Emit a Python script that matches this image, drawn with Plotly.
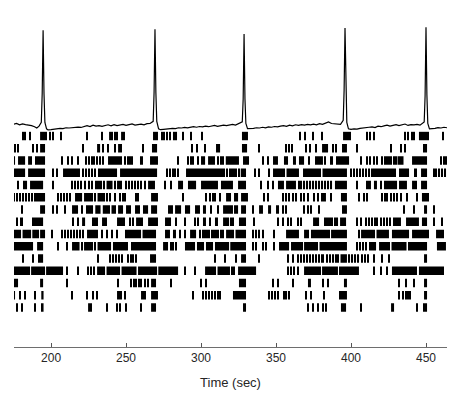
import plotly.graph_objects as go

# ---------------- data ----------------
# population activity trace (fraction of cells active) vs time (s)
trace_t = [175, 177, 179, 181, 183, 185, 187, 189, 190.5, 192, 193.5, 194.1, 194.7, 195.3, 195.9, 197, 198,
           200, 202, 204, 206, 208, 210, 212, 214, 216, 218, 220, 222, 224, 226, 228, 230, 232, 234, 236,
           238, 240, 242, 244, 246, 248, 250, 252, 254, 256, 258, 260, 262, 264, 266, 268.1, 268.7, 269.3,
           269.9, 270.5, 271.7, 273, 275, 277, 279, 281, 283, 285, 287, 289, 291, 293, 295, 297, 299, 301,
           303, 305, 307, 309, 311, 313, 315, 317, 319, 321, 323, 325, 327.5, 328.1, 328.7, 329.3, 329.9, 331,
           333, 335, 337, 339, 341, 343, 345, 347, 349, 351, 353, 355, 357, 359, 361, 363, 365, 367, 369,
           371, 373, 375, 377, 379, 381, 383, 385, 387, 389, 391, 393, 394.8, 395.4, 396, 396.6, 397.2, 398.3,
           400, 402, 404, 406, 408, 410, 412, 414, 416, 418, 420, 422, 424, 426, 428, 430, 432, 434, 436,
           438, 440, 442, 444, 446, 448.8, 449.4, 450, 450.6, 451.2, 452.3, 454, 456, 458, 460, 462, 464]
trace_v = [0.062, 0.070, 0.058, 0.066, 0.060, 0.056, 0.050, 0.040, 0.028, 0.045, 0.08, 0.35, 0.944, 0.35, 0.08, 0.02, 0.010,
           0.012, 0.018, 0.020, 0.025, 0.022, 0.030, 0.028, 0.032, 0.030, 0.036, 0.033, 0.040, 0.050, 0.042, 0.055, 0.045, 0.050, 0.044, 0.052,
           0.058, 0.048, 0.060, 0.050, 0.055, 0.062, 0.052, 0.058, 0.066, 0.055, 0.060, 0.065, 0.058, 0.068, 0.070, 0.09, 0.36, 0.953,
           0.36, 0.09, 0.02, 0.012, 0.015, 0.020, 0.018, 0.025, 0.022, 0.030, 0.028, 0.034, 0.030, 0.036, 0.040, 0.035, 0.042, 0.038,
           0.045, 0.040, 0.046, 0.052, 0.043, 0.048, 0.055, 0.050, 0.058, 0.062, 0.055, 0.068, 0.085, 0.30, 0.907, 0.30, 0.07, 0.022,
           0.020, 0.025, 0.030, 0.028, 0.035, 0.030, 0.038, 0.035, 0.042, 0.038, 0.045, 0.050, 0.043, 0.055, 0.048, 0.058, 0.052, 0.060, 0.055,
           0.062, 0.058, 0.065, 0.058, 0.068, 0.062, 0.075, 0.085, 0.070, 0.065, 0.060, 0.062, 0.10, 0.38, 0.963, 0.36, 0.08, 0.02,
           0.015, 0.020, 0.018, 0.025, 0.030, 0.028, 0.035, 0.038, 0.032, 0.045, 0.040, 0.048, 0.055, 0.045, 0.052, 0.060, 0.050, 0.058, 0.065,
           0.052, 0.060, 0.058, 0.062, 0.055, 0.085, 0.33, 0.972, 0.34, 0.07, 0.02, 0.020, 0.025, 0.032, 0.028, 0.035, 0.030]

# raster: spike times (s) or [start, end] bursts (s), one list per cell
unit01 = [181.3, 182.7, 186, [192.7, 197.3], 199.3, 201.3, 206.7, 224, 234, [238.7, 241.3], 242.7, 244, [246.7, 249.3],
          [268, 271.3], 274, 275.3, 277.3, 279.3, [281.3, 284], 288, 293.3, 300.7, [327.3, 331.3], 366, 369.3, 374.7,
          380.7, [394.7, 400], 410.7, 412.7, 415.3, 436, 438, 440.7, 442, [445.3, 452], 461.3]
unit02 = [176, 178, 188, 190.7, [192.7, 196], 221.3, [230.7, 232.7], 234.7, 238, 242.7, [244.7, 247.3], 261.3,
          [267.3, 270.7], 294, 297.3, 302.7, [310, 312.7], [327.3, 330.7], 338.7, 356.7, 358.7, 360.7, 370, 372.7,
          376.7, [380.7, 384.7], 388, 390, [394, 397.3], 404, 426.7, 433.3, 436, [448, 450.7]]
unit03 = [[174.7, 176], [178, 182.7], [184.7, 187.3], [189.3, 196], 207.3, 211.3, 214, 218, 223, 225, 227, 228.5,
          230.7, 232.5, 234.5, [238, 247.3], 249.5, 251, 252.5, 254, [259.3, 261.3], [266, 271.3], 284.7, 291.3, 293,
          294.7, 298, [300, 302.7], [304.7, 309.3], 311.3, 313, 314.7, [316.5, 325.3], [328, 332], 341.3, 344.7,
          [348, 351.3], [355.3, 358], [361.3, 363.3], [365.3, 368.7], 372, [376, 381.3], 382.7, [386, 388], [390, 398.7],
          406.7, 410.7, 412.7, 415.3, 417.3, 420.7, 422.5, 424, 425.5, 427, 428.5, 430, [431, 435], [440.7, 450.7],
          460, 462, 463.3]
unit04 = [[174.7, 182.7], [184.7, 196], 201.3, 204, [208, 219.3], 221, 223, 225.5, 227.5, 229.5, [231.3, 244],
          [246, 270.7], 277.3, 279, 281, 282.7, 284.7, [290, 316], 317.5, 319, 320.5, 322, 323.5, 325, [326.5, 330],
          336, 338.7, 345.3, [348, 356], [357, 365.3], [368, 380], [381, 397.3], 400, 402, 404, 406, 408, 410, 412,
          [413.3, 430], [432, 438.7], [442, 444], [446.7, 450.7], 455.3, 457, 459, 461, 463]
unit05 = [174.7, 178, [181.3, 184], [186, 194.7], 201.3, 214, 216, 218, 220, 222.7, 225, 227, [229.3, 234], 235.5,
          [237, 241], 242.7, [244, 247.3], 250, 252, 254, 256, 258, 260, 262.5, [264.7, 269.3], 276, 280, [284.7, 288],
          [291.3, 296.7], [300, 311.3], [313.3, 321.3], [324.7, 330], 340, 344.7, 348, [351.3, 355.3], [356.7, 363.3],
          365.3, 367, 369, 371, 373, 375, 377, 379, 381, 383, 385, 387, [389.3, 397.3], 404, [410, 413.3],
          [415.3, 417.3], 420, [422, 430.7], [432, 437.3], [440.7, 444], [446.7, 450.7]]
unit06 = [175, 177, 179, 181, 183, 185, 187, 189, 190.5, [191.3, 196], 204.7, 206.5, 208.5, 210.5, 212.5,
          [216, 220.7], [222, 228], 229.5, [231, 236], 237.5, 239, 242.7, 246, 248, 249.3, 256.7, 258, [266.7, 271.3],
          288, 303.3, 306, 308, 309.3, 312.7, [316.7, 320], [322, 324.7], [326.7, 331.3], 342, 344.7, 354.7, 356.7,
          358.7, 361.3, 363.3, 366.7, 368.7, 371.3, 375.3, 378, [380, 383.3], 386.7, [393.3, 397.3], 405.3, 408.7,
          410.7, 420.7, 422.5, 424, 426.7, 428.7, 430.7, 433.3, 437.3, 444, [447.3, 452]]
unit07 = [180.7, [192.7, 196], 201.3, 204, 209.3, [214, 218], 220.7, [223.3, 228], [229.5, 233], [234.5, 239.3],
          [240.3, 243.3], [244.7, 248], [250, 253.3], [256, 259.3], [261.3, 264.7], [266.7, 270.7], [278, 281.3],
          [282.7, 286.7], [289.3, 292.7], [296, 299.3], [301.3, 303.3], 306.7, 311.3, [314.7, 321.3], [322, 324.7],
          [326.7, 330], 334.7, [338.7, 341.3], [344.7, 346.7], [350, 352], 354.7, 356.7, 368.7, 371.3, 373.3, 378.7,
          [394, 397.3], 435.3, 442, [448.7, 450.7], 455.3]
unit08 = [174.7, 177.3, [179.3, 181.3], [187.3, 194.7], 214.7, 218, [220.7, 222.7], [227.3, 231.3], [234, 237.3],
          [244, 249.3], 252.7, 254.7, [256.7, 261.3], [264.7, 271.3], [276, 280], 283.3, 289.3, 296, 298,
          [301.3, 303.3], 306, [309.3, 311.3], [314.7, 318.7], 320, 321.3, [325.3, 330], 335.3, 351.3, 354.7, 358, 360,
          364.7, 366.7, [374.7, 378.7], [382, 388], 389.3, 391, [392.7, 396.7], 404, 406.7, 410, 412, 414, 416, 417.3,
          420, 422, 424, 426, [428, 433.3], [436.7, 445.3], [447.3, 450.7], 455.3, 460.7]
unit09 = [[174.7, 180], [181, 186.7], [187.5, 192], [192.7, 196], 200.7, 207.3, 209.5, 211.5, 213.5, 215.5, 217.5,
          219.5, 221.5, [224, 231.3], 234, 237.3, 240.7, 244, [249.3, 260], [261, 270], [276, 279.3], [281.3, 283.3],
          286, 289.3, [292.7, 296.7], 299.3, 301, 302.5, 304, 305.5, 307, 308.5, 310, 311.5, 313, 314.5, [316.7, 322],
          [323, 330], 334.7, 336.7, 338.7, 341.3, 348.7, [356.7, 365.3], [368.7, 372], [373.3, 386], [386.7, 397.3],
          405.3, [406.7, 416], [417, 425.3], [427.3, 438.7], [440.7, 452], [456.7, 462]]
unit10 = [[174.7, 188], [190.7, 194.7], 204.7, 210.7, [214, 219], 220.7, [222, 228], 229.5, [231, 240],
          [241.3, 251.3], [253.3, 270], [274.7, 278], 280, 281.3, 283.3, [289.3, 296], [297.3, 302], [303.3, 308],
          [309.3, 318.7], [319.5, 330], 334.7, 336.7, 341.3, 343.3, 348.7, [352, 358.7], [360, 368], [368.7, 378],
          [379, 397.3], 404, 406, 408, 410, [412, 416.7], [418.7, 426], [427, 437], [438, 450.7], [457.3, 463.3]]
unit11 = [174.7, 181.3, 188, [191.3, 194.7], 231.3, 239.3, 241.5, 243.5, 245.5, 247.3, 251.3, 253, 254.5, 256.7,
          [266, 270], 309.3, 316, 323.3, [326.7, 330], 338.7, 358, 361.3, 364.7, 366.7, 368.7, 370.7, 372.7, 374.7,
          376.7, 378.7, [380, 382], 384, 386, 388, [389.3, 392], [393, 397.3], 399, 401, 403, 405, 407.3, 409.3,
          411.3, 415.3, 420.7, 425.3, [448.7, 450.7]]
unit12 = [[174.7, 186], [186.7, 196], [196.7, 208], 210.7, 218, 224.7, 226.5, 228.5, [230.7, 236], [237, 246],
          [247, 257], [258, 270.7], [271.5, 284.7], 289.3, 296, [302.7, 310], [311, 319.3], 320.5, 322, [324.7, 336.7],
          358, 360, 362, 364.7, [368.7, 380], [380.7, 391.3], [392, 405.3], 415.3, 420, 424, [427.3, 444],
          [445.3, 462]]
unit13 = [[174.7, 178], [192.7, 194.7], 210.7, 244.7, 253.3, 255, 256.7, 258.5, 260, 262.7, 264.7, [266.7, 270],
          280, 300, 303.3, [325.3, 330], 348, 351.3, 361.3, [371.3, 373.3], 381.3, 384.7, [395.3, 397.3], 432, 436.7,
          442, [448.7, 450.7]]
unit14 = [[174.7, 176], 179.3, 182.7, 189.3, [193.5, 195], 214, 224, 228, 230.7, [244, 247.3], 249.3, [260, 263.3],
          [266.7, 271.3], 294.7, 301.3, 303.3, 305.3, 307.3, 309.3, 311.3, 312.7, [321.3, 330], 345.3, 347.3, 349.3,
          351.3, 355.3, 357, 358.7, 370, 373.3, 382, [392, 397.3], 432, 434.5, [436, 440], [448.7, 450.7]]
unit15 = [177.3, 180.7, 189.3, [193.7, 195], [224.7, 227.3], 237.3, 244, 246, 250, 260, [266.7, 270], [328, 330],
          371.3, 374.7, 378, 381.3, 383.3, [393.3, 396.7], 406.7, [426.7, 428.7], 444, [448, 450.7]]

x_ticks = [200, 250, 300, 350, 400, 450]
x_title = "Time (sec)"

# ---------------- figure ----------------
units = [unit01, unit02, unit03, unit04, unit05, unit06, unit07, unit08,
         unit09, unit10, unit11, unit12, unit13, unit14, unit15]
spike_w = 0.7   # drawn width of a single spike (s)
bar_h = 0.7     # tick height in row units

fig = go.Figure()
for i, row in enumerate(units, start=1):
    xs, ws = [], []
    for ev in row:
        if isinstance(ev, (list, tuple)):
            s, e = ev
        else:
            s, e = ev - spike_w / 2, ev + spike_w / 2
        xs.append((s + e) / 2)
        ws.append(e - s)
    fig.add_trace(go.Bar(
        x=xs, y=[bar_h] * len(xs), base=[i - bar_h / 2] * len(xs), width=ws,
        marker=dict(color="black", line=dict(width=0)),
        xaxis="x", yaxis="y", showlegend=False, hoverinfo="skip"))

fig.add_trace(go.Scatter(
    x=trace_t, y=trace_v, mode="lines", line=dict(color="black", width=1.2),
    xaxis="x", yaxis="y2", showlegend=False, hoverinfo="skip"))

# the page body has an 8px default margin, so the figure is sized to fit inside the window
fig.update_layout(
    width=453, height=386,
    margin=dict(l=6, r=14, t=2, b=47),
    paper_bgcolor="white", plot_bgcolor="white",
    barmode="overlay",
    font=dict(family="Liberation Sans, Arial, sans-serif", color="#262626"),
    xaxis=dict(range=[175.3, 464], tickvals=x_ticks, ticks="inside", ticklen=4, tickwidth=1,
               tickcolor="#555555", showline=True, linecolor="#6e6e6e", linewidth=1,
               showgrid=False, zeroline=False, anchor="y", tickfont=dict(size=12),
               title=dict(text=x_title, font=dict(size=13), standoff=13)),
    yaxis=dict(domain=[0, 0.64], range=[18.22, 0.616], visible=False),
    yaxis2=dict(domain=[0.641, 0.958], range=[0, 1], visible=False, anchor="x"),
)

fig.write_html("out.html")
